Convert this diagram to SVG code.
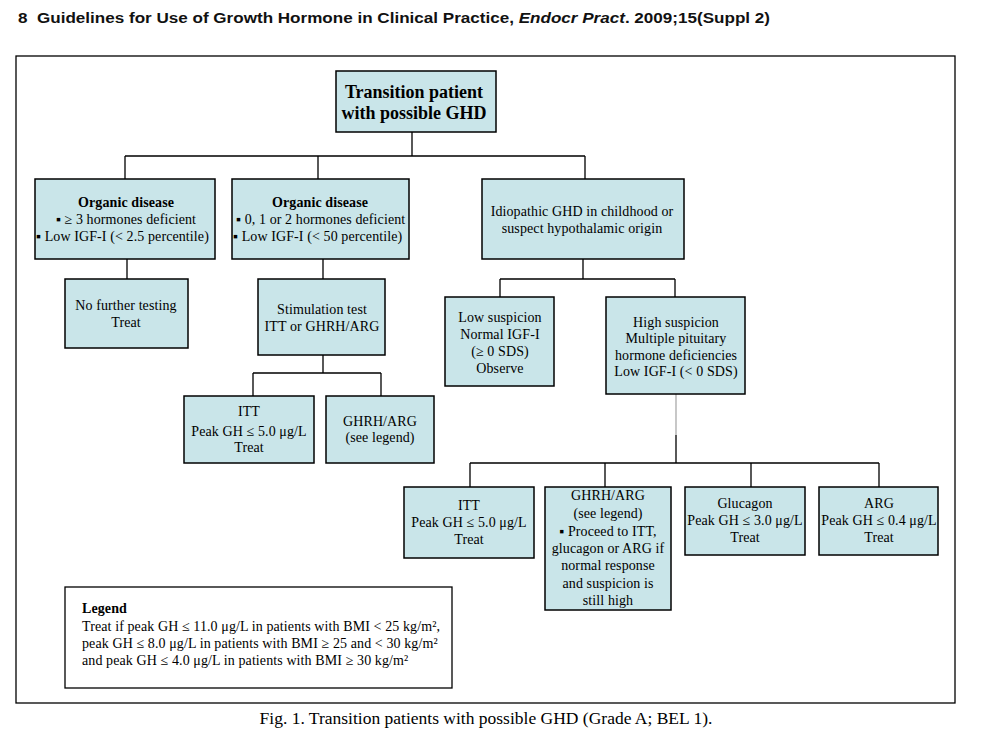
<svg xmlns="http://www.w3.org/2000/svg" width="982" height="746" viewBox="0 0 982 746">
<style>
.box{fill:#C9E5E9;stroke:#000;stroke-width:1.5}
.t{font-family:"Liberation Serif","Times New Roman",serif;font-size:14px;letter-spacing:0.1px;fill:#000;text-anchor:middle}
.b{font-weight:bold}
.l{text-anchor:start}
.big{font-size:18px;letter-spacing:0}
.c{stroke:#000;stroke-width:1.3;fill:none}
</style>
<rect width="982" height="746" fill="#fff"/>
<text x="18" y="23" font-family="'Liberation Sans',Arial,sans-serif" font-size="14.5" font-weight="bold" fill="#111" textLength="752" lengthAdjust="spacingAndGlyphs">8&#160; Guidelines for Use of Growth Hormone in Clinical Practice, <tspan font-style="italic">Endocr Pract</tspan>. 2009;15(Suppl 2)</text>
<rect x="16" y="56" width="939" height="647" fill="none" stroke="#000" stroke-width="1.3"/>
<g id="connectors">
<path class="c" d="M412 132V156M125 156H585M125 156V179M318 156V179M585 156V179"/>
<path class="c" d="M127 259V279M323 259V279"/>
<path class="c" d="M323 355V373M253 373H381M253 373V396M381 373V396"/>
<path class="c" d="M583 259V279M500 279H675M500 279V297M675 279V297"/>
<path d="M676 394V435" stroke="#aaa" stroke-width="1.3"/>
<path class="c" d="M676 435V463M470 463H879M470 463V487M605 463V487M751 463V487M879 463V487"/>
</g>
<g id="n-top"><rect class="box" x="336" y="71" width="160" height="61"/>
<text class="t b big" x="414" y="98">Transition patient</text>
<text class="t b big" x="414" y="119">with possible GHD</text></g>
<g id="n-organic1"><rect class="box" x="35" y="179" width="180" height="80"/>
<text class="t b" x="126" y="207">Organic disease</text>
<text class="t" x="126" y="224">▪ ≥ 3 hormones deficient</text>
<text class="t l" x="36" y="241">▪ Low IGF-I (&lt; 2.5 percentile)</text></g>
<g id="n-organic2"><rect class="box" x="232" y="179" width="177" height="80"/>
<text class="t b" x="320" y="207">Organic disease</text>
<text class="t l" x="236" y="224">▪ 0, 1 or 2 hormones deficient</text>
<text class="t l" x="233" y="241">▪ Low IGF-I (&lt; 50 percentile)</text></g>
<g id="n-idiopathic"><rect class="box" x="482" y="179" width="202" height="80"/>
<text class="t" x="582" y="216">Idiopathic GHD in childhood or</text>
<text class="t" x="582" y="233">suspect hypothalamic origin</text></g>
<g id="n-nofurther"><rect class="box" x="65" y="279" width="123" height="69"/>
<text class="t" x="126" y="310">No further testing</text>
<text class="t" x="126" y="327">Treat</text></g>
<g id="n-stim"><rect class="box" x="258" y="279" width="127" height="76"/>
<text class="t" x="322" y="314">Stimulation test</text>
<text class="t" x="322" y="331">ITT or GHRH/ARG</text></g>
<g id="n-itt1"><rect class="box" x="184" y="396" width="130" height="67"/>
<text class="t" x="249" y="416">ITT</text>
<text class="t" x="249" y="436">Peak GH ≤ 5.0 μg/L</text>
<text class="t" x="249" y="452">Treat</text></g>
<g id="n-ghrh1"><rect class="box" x="326" y="396" width="108" height="67"/>
<text class="t" x="380" y="426">GHRH/ARG</text>
<text class="t" x="380" y="442">(see legend)</text></g>
<g id="n-low"><rect class="box" x="445" y="297" width="109" height="89"/>
<text class="t" x="500" y="322">Low suspicion</text>
<text class="t" x="500" y="339">Normal IGF-I</text>
<text class="t" x="500" y="356">(≥ 0 SDS)</text>
<text class="t" x="500" y="373">Observe</text></g>
<g id="n-high"><rect class="box" x="606" y="297" width="139" height="97"/>
<text class="t" x="676" y="327">High suspicion</text>
<text class="t" x="676" y="343">Multiple pituitary</text>
<text class="t" x="676" y="360">hormone deficiencies</text>
<text class="t" x="676" y="376">Low IGF-I (&lt; 0 SDS)</text></g>
<g id="n-itt2"><rect class="box" x="404" y="487" width="130" height="71"/>
<text class="t" x="469" y="510">ITT</text>
<text class="t" x="469" y="527">Peak GH ≤ 5.0 μg/L</text>
<text class="t" x="469" y="544">Treat</text></g>
<g id="n-ghrh2"><rect class="box" x="545" y="487" width="126" height="123"/>
<text class="t" x="608" y="500">GHRH/ARG</text>
<text class="t" x="608" y="518">(see legend)</text>
<text class="t" x="608" y="536">▪ Proceed to ITT,</text>
<text class="t" x="608" y="553">glucagon or ARG if</text>
<text class="t" x="608" y="570">normal response</text>
<text class="t" x="608" y="588">and suspicion is</text>
<text class="t" x="608" y="605">still high</text></g>
<g id="n-glucagon"><rect class="box" x="685" y="487" width="120" height="68"/>
<text class="t" x="745" y="508">Glucagon</text>
<text class="t" x="745" y="525">Peak GH ≤ 3.0 μg/L</text>
<text class="t" x="745" y="542">Treat</text></g>
<g id="n-arg"><rect class="box" x="819" y="487" width="119" height="68"/>
<text class="t" x="879" y="508">ARG</text>
<text class="t" x="879" y="525">Peak GH ≤ 0.4 μg/L</text>
<text class="t" x="879" y="542">Treat</text></g>
<g id="legend"><rect x="65" y="587" width="387" height="101" fill="#fff" stroke="#000" stroke-width="1.3"/>
<text class="t b l" x="82" y="613">Legend</text>
<text class="t l" x="82" y="631">Treat if peak GH ≤ 11.0 μg/L in patients with BMI &lt; 25 kg/m²,</text>
<text class="t l" x="82" y="648">peak GH ≤ 8.0 μg/L in patients with BMI ≥ 25 and &lt; 30 kg/m²</text>
<text class="t l" x="82" y="665">and peak GH ≤ 4.0 μg/L in patients with BMI ≥ 30 kg/m²</text></g>
<text x="486" y="724" font-family="'Liberation Serif','Times New Roman',serif" font-size="17.5" text-anchor="middle" fill="#000">Fig. 1. Transition patients with possible GHD (Grade A; BEL 1).</text>
</svg>
